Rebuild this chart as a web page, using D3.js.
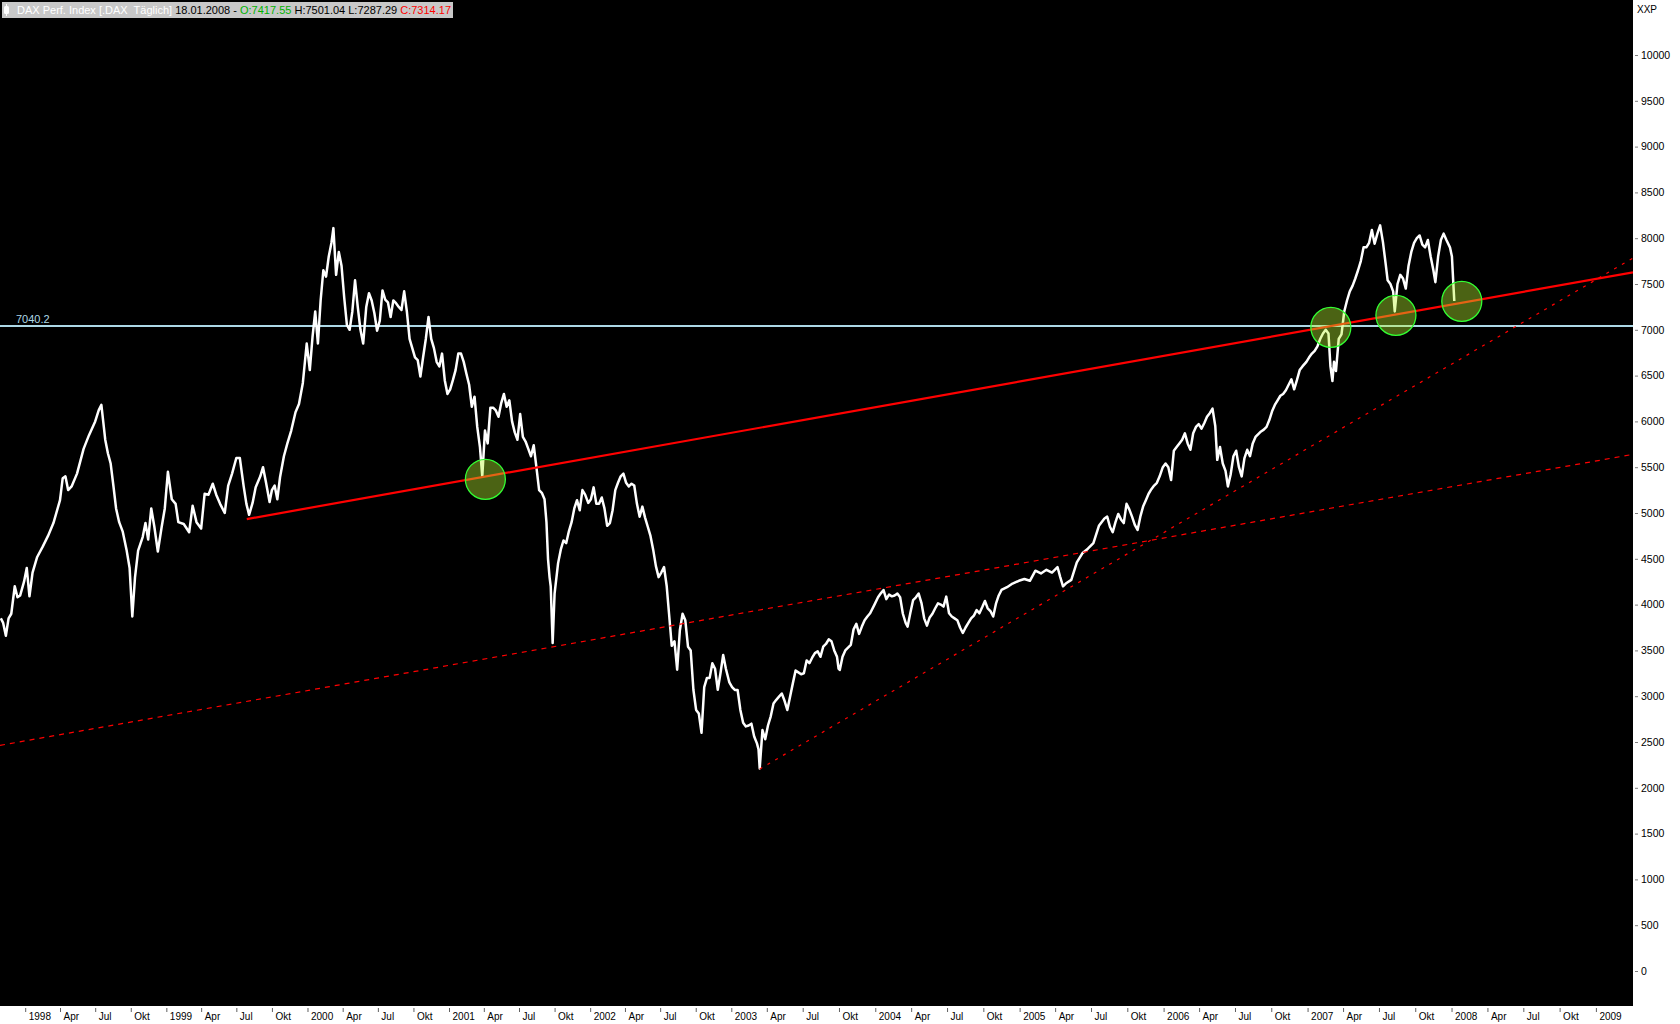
<!DOCTYPE html>
<html><head><meta charset="utf-8">
<script src="https://cdn.jsdelivr.net/npm/d3@7"></script>
<style>
body{margin:0;background:#fff;}
svg{display:block;}
text{font-family:"Liberation Sans",Arial,sans-serif;}
</style>
</head><body>
<svg id="chart" width="1680" height="1024"></svg>
<script>
// ---------------- DATA ----------------
const dates = [
"1997-10-30","1997-11-05","1997-11-12","1997-11-19","1997-11-26","1997-12-05","1997-12-12","1997-12-19","1997-12-29",
"1998-01-05","1998-01-12","1998-01-20","1998-02-01","1998-02-15","1998-03-01","1998-03-15","1998-04-01","1998-04-08","1998-04-15","1998-04-22",
"1998-05-01","1998-05-15","1998-06-01","1998-06-15","1998-07-01","1998-07-10","1998-07-17","1998-07-27","1998-08-03","1998-08-10","1998-08-17","1998-08-24",
"1998-09-01","1998-09-10","1998-09-20","1998-09-28","1998-10-05","1998-10-12","1998-10-20","1998-11-01","1998-11-08","1998-11-15","1998-11-23",
"1998-12-01","1998-12-10","1998-12-20","1998-12-28",
"1999-01-05","1999-01-15","1999-01-25","1999-02-01","1999-02-15","1999-03-01","1999-03-10","1999-03-20","1999-04-01","1999-04-10","1999-04-20",
"1999-05-01","1999-05-10","1999-05-20","1999-06-01","1999-06-10","1999-06-20","1999-07-01","1999-07-10","1999-07-20","1999-07-27","1999-08-03",
"1999-08-12","1999-08-20","1999-09-01","1999-09-08","1999-09-15","1999-09-25","1999-10-01","1999-10-08","1999-10-15","1999-10-22","1999-11-01",
"1999-11-10","1999-11-20","1999-12-01","1999-12-10","1999-12-20","1999-12-30",
"2000-01-07","2000-01-14","2000-01-21","2000-01-28","2000-02-04","2000-02-11","2000-02-18","2000-02-25","2000-03-03","2000-03-08","2000-03-15",
"2000-03-22","2000-03-29","2000-04-05","2000-04-12","2000-04-19","2000-04-26","2000-05-03","2000-05-10","2000-05-17","2000-05-24","2000-06-01",
"2000-06-08","2000-06-15","2000-06-22","2000-06-29","2000-07-06","2000-07-13","2000-07-20","2000-07-27","2000-08-03","2000-08-10","2000-08-17",
"2000-08-24","2000-08-31","2000-09-07","2000-09-14","2000-09-21","2000-09-28","2000-10-05","2000-10-12","2000-10-19","2000-10-26","2000-11-02",
"2000-11-09","2000-11-16","2000-11-23","2000-11-30","2000-12-07","2000-12-14","2000-12-21","2000-12-28",
"2001-01-04","2001-01-11","2001-01-18","2001-01-25","2001-02-01","2001-02-08","2001-02-15","2001-02-22","2001-03-01","2001-03-08","2001-03-15",
"2001-03-22","2001-03-28","2001-04-04","2001-04-11","2001-04-18","2001-04-25","2001-05-02","2001-05-09","2001-05-16","2001-05-23","2001-05-30",
"2001-06-06","2001-06-13","2001-06-20","2001-06-27","2001-07-04","2001-07-11","2001-07-18","2001-07-25","2001-08-01","2001-08-08","2001-08-15",
"2001-08-22","2001-08-29","2001-09-05","2001-09-10","2001-09-14","2001-09-18","2001-09-21","2001-09-26","2001-10-01","2001-10-10","2001-10-17",
"2001-10-24","2001-10-31","2001-11-07","2001-11-14","2001-11-21","2001-11-28","2001-12-05","2001-12-12","2001-12-19","2001-12-27",
"2002-01-03","2002-01-10","2002-01-17","2002-01-24","2002-01-31","2002-02-07","2002-02-14","2002-02-21","2002-02-28","2002-03-07","2002-03-14",
"2002-03-21","2002-03-28","2002-04-04","2002-04-11","2002-04-18","2002-04-25","2002-05-02","2002-05-09","2002-05-16","2002-05-23","2002-05-30",
"2002-06-06","2002-06-13","2002-06-20","2002-06-27","2002-07-04","2002-07-11","2002-07-18","2002-07-24","2002-07-31","2002-08-07","2002-08-14",
"2002-08-21","2002-08-28","2002-09-04","2002-09-11","2002-09-18","2002-09-25","2002-10-02","2002-10-09","2002-10-16","2002-10-23","2002-10-30",
"2002-11-06","2002-11-13","2002-11-20","2002-11-27","2002-12-04","2002-12-11","2002-12-18","2002-12-27",
"2003-01-03","2003-01-10","2003-01-17","2003-01-24","2003-01-31","2003-02-07","2003-02-14","2003-02-21","2003-02-28","2003-03-07","2003-03-11",
"2003-03-14","2003-03-21","2003-03-28","2003-04-04","2003-04-11","2003-04-18","2003-04-25","2003-05-02","2003-05-09","2003-05-16","2003-05-23",
"2003-05-30","2003-06-06","2003-06-13","2003-06-20","2003-06-27","2003-07-04","2003-07-11","2003-07-18","2003-07-25","2003-08-01","2003-08-08",
"2003-08-15","2003-08-22","2003-08-29","2003-09-05","2003-09-12","2003-09-19","2003-09-26","2003-09-30","2003-10-03","2003-10-10","2003-10-17",
"2003-10-24","2003-10-31","2003-11-07","2003-11-14","2003-11-21","2003-11-28","2003-12-05","2003-12-12","2003-12-19","2003-12-30",
"2004-01-08","2004-01-15","2004-01-22","2004-01-29","2004-02-05","2004-02-12","2004-02-19","2004-02-26","2004-03-04","2004-03-11","2004-03-18",
"2004-03-23","2004-03-30","2004-04-06","2004-04-13","2004-04-20","2004-04-27","2004-05-04","2004-05-11","2004-05-18","2004-05-25","2004-06-01",
"2004-06-08","2004-06-15","2004-06-22","2004-06-29","2004-07-06","2004-07-13","2004-07-20","2004-07-27","2004-08-03","2004-08-10","2004-08-17",
"2004-08-24","2004-08-31","2004-09-07","2004-09-14","2004-09-21","2004-09-28","2004-10-05","2004-10-12","2004-10-19","2004-10-26","2004-11-02",
"2004-11-09","2004-11-16","2004-11-30","2004-12-14","2004-12-30",
"2005-01-13","2005-01-27","2005-02-10","2005-02-24","2005-03-10","2005-03-24","2005-04-07","2005-04-14","2005-04-21","2005-04-28","2005-05-12",
"2005-05-26","2005-06-09","2005-06-23","2005-07-07","2005-07-21","2005-08-04","2005-08-11","2005-08-18","2005-08-25","2005-09-01","2005-09-08",
"2005-09-15","2005-09-22","2005-09-29","2005-10-06","2005-10-13","2005-10-20","2005-10-27","2005-11-03","2005-11-10","2005-11-17","2005-11-24",
"2005-12-01","2005-12-08","2005-12-15","2005-12-22","2005-12-30",
"2006-01-06","2006-01-13","2006-01-20","2006-01-27","2006-02-03","2006-02-10","2006-02-17","2006-02-24","2006-03-03","2006-03-10","2006-03-17",
"2006-03-24","2006-03-31","2006-04-07","2006-04-14","2006-04-21","2006-04-28","2006-05-05","2006-05-12","2006-05-17","2006-05-24","2006-05-31",
"2006-06-07","2006-06-13","2006-06-20","2006-06-27","2006-07-04","2006-07-11","2006-07-18","2006-07-25","2006-08-01","2006-08-08","2006-08-15",
"2006-08-22","2006-08-29","2006-09-05","2006-09-12","2006-09-19","2006-09-26","2006-10-03","2006-10-10","2006-10-17","2006-10-24","2006-10-31",
"2006-11-07","2006-11-14","2006-11-21","2006-11-28","2006-12-05","2006-12-12","2006-12-19","2006-12-29",
"2007-01-05","2007-01-12","2007-01-19","2007-01-26","2007-02-02","2007-02-09","2007-02-16","2007-02-23","2007-02-28","2007-03-05","2007-03-09",
"2007-03-14","2007-03-21","2007-03-28","2007-04-04","2007-04-11","2007-04-18","2007-04-25","2007-05-02","2007-05-09","2007-05-16","2007-05-23",
"2007-05-30","2007-06-06","2007-06-13","2007-06-20","2007-06-27","2007-07-04","2007-07-11","2007-07-18","2007-07-23","2007-07-30","2007-08-06",
"2007-08-10","2007-08-17","2007-08-24","2007-08-31","2007-09-07","2007-09-14","2007-09-21","2007-09-28","2007-10-05","2007-10-12","2007-10-19",
"2007-10-26","2007-11-02","2007-11-09","2007-11-16","2007-11-21","2007-11-28","2007-12-05","2007-12-12","2007-12-19","2007-12-28",
"2008-01-02","2008-01-05","2008-01-08"
];
const closes = [
3850,3800,3660,3850,3900,4200,4080,4100,4250,
4400,4090,4350,4520,4630,4750,4890,5140,5380,5400,5250,
5290,5430,5700,5850,6000,6120,6180,5800,5650,5540,5300,5050,
4900,4800,4600,4400,3870,4300,4590,4740,4890,4710,5050,
4850,4580,4850,5050,
5450,5150,5100,4900,4880,4790,5080,4900,4830,5210,5200,
5320,5200,5100,5000,5300,5430,5600,5600,5290,5100,4980,
5110,5280,5400,5500,5350,5120,5250,5300,5150,5390,5620,
5760,5900,6100,6190,6420,6850,
6560,6920,7200,6850,7320,7650,7580,7800,7950,8110,7600,
7850,7700,7350,7050,7000,7200,7540,7250,7000,6850,7250,
7400,7320,7180,6990,7100,7430,7330,7300,7140,7320,7290,
7250,7216,7420,7200,6900,6800,6700,6670,6490,6700,6900,
7140,6900,6800,6650,6600,6740,6450,6300,
6350,6450,6560,6740,6740,6650,6520,6400,6160,6270,5940,
5720,5400,5900,5760,6150,6150,6120,6050,6200,6300,6160,
6230,6000,5880,5800,6080,5830,5780,5700,5620,5740,5500,
5250,5220,5150,4900,4500,4300,4200,3580,4120,4450,4600,
4700,4670,4800,4900,5050,5140,5030,5250,5200,5110,
5150,5280,5100,5100,5170,5050,4860,4890,5030,5250,5330,
5400,5430,5330,5290,5320,5300,5100,4960,5070,4950,4850,
4750,4600,4420,4300,4350,4410,4200,3900,3550,3600,3290,
3720,3900,3830,3540,3500,3070,2850,2810,2600,3100,3200,
3200,3360,3300,3070,3250,3450,3300,3150,
3100,3068,3068,2850,2710,2670,2680,2700,2560,2485,2420,
2212,2630,2530,2680,2780,2920,2960,2995,3030,2950,2850,
2995,3140,3280,3260,3240,3250,3390,3360,3420,3470,3490,
3430,3540,3570,3620,3600,3500,3430,3300,3286,3430,3500,
3530,3560,3730,3790,3680,3760,3830,3870,3905,4000,
4080,4123,4159,4060,4110,4090,4100,4120,4080,3900,3800,
3760,3910,4050,4080,4120,4020,3850,3770,3860,3900,3960,
4014,4000,3978,4087,3905,3870,3850,3830,3750,3690,3750,
3800,3850,3880,3940,3905,3970,4040,3960,3930,3870,4010,
4100,4160,4190,4230,4260,
4280,4260,4370,4340,4380,4350,4410,4300,4200,4230,4270,
4460,4560,4610,4670,4860,4940,4960,4850,4790,4900,4990,
4930,4890,5100,5040,4960,4870,4815,4960,5070,5140,5210,
5260,5300,5330,5400,5500,
5540,5500,5360,5680,5720,5760,5800,5870,5760,5690,5870,
5940,5970,5920,5980,6050,6090,6140,5950,5580,5720,5540,
5460,5290,5420,5620,5680,5500,5400,5600,5690,5620,5760,
5830,5860,5890,5910,5940,6015,6110,6180,6230,6280,6300,
6340,6400,6460,6350,6450,6560,6600,6650,
6700,6740,6770,6820,6900,6960,7000,6960,6600,6440,6650,
6550,6900,6950,7200,7320,7420,7480,7560,7650,7750,7900,
7900,7950,8090,7940,8050,8140,7960,7720,7540,7500,7420,
7200,7500,7600,7560,7450,7700,7850,7950,8000,8030,7930,
7900,7980,7800,7650,7520,7800,7980,8050,7980,7900,
7800,7550,7314
];
const yTickValues = [0,500,1000,1500,2000,2500,3000,3500,4000,4500,5000,5500,6000,6500,7000,7500,8000,8500,9000,9500,10000];
const monthLabels = ["Apr","Jul","Okt"];           // quarter month labels; January shows the year
const levelValue = 7040.2;                           // horizontal level
const trendSolid = [["1999-07-28",4934],["2007-01-01",6995]];
const trendDashA = [["2003-01-01",3886],["2007-01-01",5007]];
const trendDashB = [["2003-03-14",2205],["2007-01-01",5705]];
const touchPoints = [["2001-04-05",5368],["2007-03-01",7027],["2007-08-13",7158],["2008-01-27",7311]];
const headerParts = [
  {t:"DAX Perf. Index [.DAX  Täglich] ", c:"#ffffff"},
  {t:"18.01.2008 - ", c:"#000000"},
  {t:"O:7417.55", c:"#00b400"},
  {t:" H:7501.04 L:7287.29 ", c:"#000000"},
  {t:"C:7314.17", c:"#ff0000"}
];
const axisUnit = "XXP";

// ---------------- LAYOUT ----------------
const W = 1680, H = 1024, plotR = 1633, plotB = 1006;
const parse = d3.utcParse("%Y-%m-%d");
const x = d3.scaleUtc()
  .domain([parse("1998-01-01"), parse("2003-01-01"), parse("2009-01-01")])
  .range([25.2, 731.3, 1595.9]);
const y = d3.scaleLinear().domain([0, 10000]).range([971, 55]);

const svg = d3.select("#chart");
svg.append("rect").attr("width", W).attr("height", H).attr("fill", "#ffffff");
svg.append("rect").attr("x", 0).attr("y", 0).attr("width", plotR).attr("height", plotB).attr("fill", "#000000");

svg.append("defs").append("clipPath").attr("id", "clip")
  .append("rect").attr("x", 0).attr("y", 0).attr("width", plotR).attr("height", plotB);
const plot = svg.append("g").attr("clip-path", "url(#clip)");

const series = dates.map((d, i) => ({date: parse(d), v: closes[i]}));

// horizontal level line
plot.append("line")
  .attr("x1", 0).attr("x2", plotR)
  .attr("y1", y(levelValue)).attr("y2", y(levelValue))
  .attr("stroke", "#add8e6").attr("stroke-width", 2);
plot.append("text")
  .attr("x", 16).attr("y", y(levelValue) - 3)
  .attr("fill", "#add8e6").attr("font-size", 11)
  .text(levelValue.toFixed(1));

// price line
plot.append("path")
  .datum(series)
  .attr("fill", "none")
  .attr("stroke", "#ffffff")
  .attr("stroke-width", 2.5)
  .attr("stroke-linejoin", "round")
  .attr("d", d3.line().x(d => x(d.date)).y(d => y(d.v)));

// trend lines
function extend(pts, leftToo) {
  const a = [x(parse(pts[0][0])), y(pts[0][1])];
  const b = [x(parse(pts[1][0])), y(pts[1][1])];
  const m = (b[1] - a[1]) / (b[0] - a[0]);
  const x0 = leftToo ? 0 : a[0];
  return [[x0, a[1] + m * (x0 - a[0])], [plotR, a[1] + m * (plotR - a[0])]];
}
const seg = d3.line();
plot.append("path").attr("d", seg(extend(trendDashA, true)))
  .attr("stroke", "#ff0000").attr("stroke-width", 1.2).attr("stroke-dasharray", "5,5").attr("fill", "none");
plot.append("path").attr("d", seg(extend(trendDashB, false)))
  .attr("stroke", "#ff0000").attr("stroke-width", 1.2).attr("stroke-dasharray", "3,6").attr("fill", "none");
plot.append("path").attr("d", seg(extend(trendSolid, false)))
  .attr("stroke", "#ff0000").attr("stroke-width", 2.2).attr("fill", "none");

// touch circles
plot.selectAll("circle.touch").data(touchPoints).join("circle")
  .attr("class", "touch")
  .attr("cx", d => x(parse(d[0]))).attr("cy", d => y(d[1])).attr("r", 20)
  .attr("fill", "rgb(188,248,50)").attr("fill-opacity", 0.4)
  .attr("stroke", "#33ff33").attr("stroke-width", 1.3);

// header
svg.append("rect").attr("x", 2).attr("y", 2).attr("width", 451).attr("height", 16).attr("fill", "#c8c8c8");
svg.append("rect").attr("x", 4).attr("y", 6).attr("width", 5).attr("height", 8).attr("rx", 1.5).attr("fill", "#ffffff");
svg.append("line").attr("x1", 6.5).attr("x2", 6.5).attr("y1", 4).attr("y2", 16).attr("stroke", "#ffffff").attr("stroke-width", 1);
const ht = svg.append("text").attr("x", 17).attr("y", 14).attr("font-size", 11).style("white-space", "pre");
headerParts.forEach(p => ht.append("tspan").attr("fill", p.c).text(p.t));

// right axis
const yAxis = svg.append("g").attr("transform", `translate(${plotR + 2},0)`)
  .call(d3.axisRight(y).tickValues(yTickValues).tickSize(3).tickPadding(3).tickFormat(d3.format("d")));
yAxis.select(".domain").remove();
yAxis.selectAll(".tick line").attr("stroke", "#808080");
yAxis.selectAll(".tick text").attr("fill", "#000").attr("font-size", 10.5)
  .attr("font-family", "Liberation Sans, Arial, sans-serif");
svg.append("text").attr("x", 1637).attr("y", 13).attr("font-size", 10).attr("fill", "#000").text(axisUnit);

// bottom axis
const tickDates = d3.utcMonth.every(3).range(parse("1998-01-01"), parse("2009-01-02"));
const fmt = d => d.getUTCMonth() === 0 ? String(d.getUTCFullYear()) : monthLabels[d.getUTCMonth() / 3 - 1];
const xAxis = svg.append("g").attr("transform", `translate(0,${plotB + 2})`)
  .call(d3.axisBottom(x).tickValues(tickDates).tickSize(4).tickFormat(fmt));
xAxis.select(".domain").remove();
xAxis.selectAll(".tick line").attr("stroke", "#606060");
xAxis.selectAll(".tick text").attr("fill", "#000").attr("font-size", 10)
  .attr("font-family", "Liberation Sans, Arial, sans-serif")
  .attr("text-anchor", "start").attr("x", 3).attr("y", 5).attr("dy", "0.71em");
</script>
</body></html>
